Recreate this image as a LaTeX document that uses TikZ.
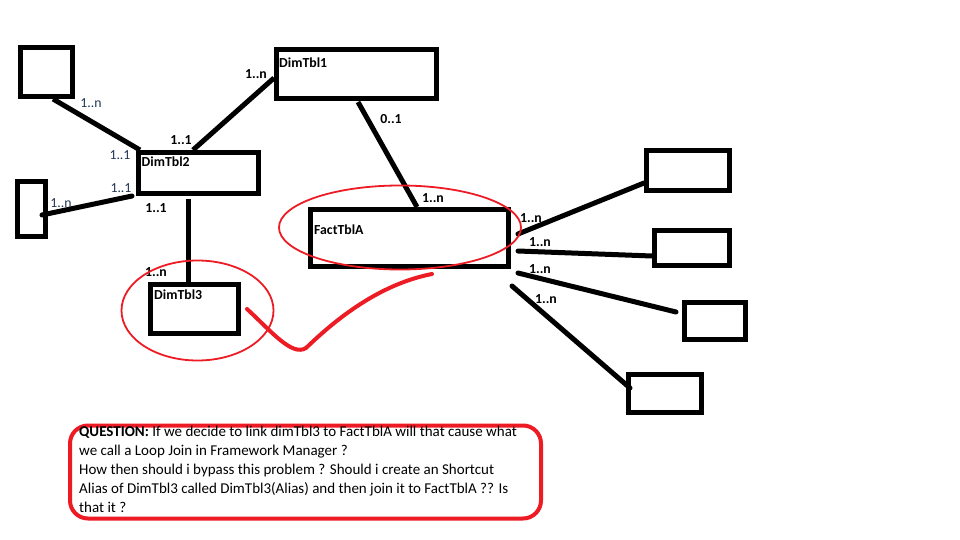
\documentclass[tikz,border=0pt]{standalone}
\usepackage{fontspec}
\setmainfont{Carlito}
\usetikzlibrary{calc}
\definecolor{mspred}{RGB}{237,28,36}
\definecolor{lbl}{RGB}{35,55,85}
\begin{document}
\begin{tikzpicture}[x=1pt,y=-1pt,
  tbl/.style={draw=black,line width=5pt,rectangle,inner sep=0pt},
  conn/.style={line width=5pt,draw=black},
  tname/.style={font=\bfseries\fontsize{13.8}{16}\selectfont,anchor=north west,inner sep=0pt},
  bcard/.style={font=\bfseries\fontsize{13.8}{16}\selectfont,inner sep=0pt},
  card/.style={font=\fontsize{13.8}{16}\selectfont,text=lbl,inner sep=0pt},
  ring/.style={draw=mspred,line width=1.8pt}]
\useasboundingbox (0,0) rectangle (960,540);
\fill[white] (0,0) rectangle (960,540);

% tables
\node[tbl,minimum width=52pt,minimum height=49pt] (tl) at (46.5,72) {};
\node[tbl,minimum width=160pt,minimum height=49pt] (d1) at (356.5,74) {};
\node[tbl,minimum width=120pt,minimum height=41pt] (d2) at (198.5,173) {};
\node[tbl,minimum width=28pt,minimum height=55pt] (sm) at (31.5,209) {};
\node[tbl,minimum width=88pt,minimum height=49pt] (d3) at (194.5,309) {};
\node[tbl,minimum width=198pt,minimum height=57pt] (fa) at (409.5,238) {};
\node[tbl,minimum width=83pt,minimum height=40pt] (r1) at (688,170.5) {};
\node[tbl,minimum width=75pt,minimum height=35pt] (r2) at (692,248) {};
\node[tbl,minimum width=61pt,minimum height=37pt] (r3) at (715,321) {};
\node[tbl,minimum width=73pt,minimum height=38pt] (r4) at (665,393.5) {};

\node[tname] (n1) at ($(d1.north west)+(5,11)$) {DimTbl1};
\node[tname] (n2) at ($(d2.north west)+(5.5,6.5)$) {DimTbl2};
\node[tname] (n3) at ($(d3.north west)+(6,8)$) {DimTbl3};
\node[tname] (n4) at ($(fa.north west)+(6,18)$) {FactTblA};

% connector end points
\coordinate (a1) at (53,99);   \coordinate (a2) at (140,150);
\coordinate (b1) at (274,78);  \coordinate (b2) at (193,150);
\coordinate (c1) at (42,215);  \coordinate (c2) at (132,196);
\coordinate (e1) at (188,199); \coordinate (e2) at (188,282);
\coordinate (f1) at (358,102); \coordinate (f2) at (417,207);
\coordinate (g0) at (518,234); \coordinate (g1) at (644,183);
\coordinate (h0) at (518,251); \coordinate (h1) at (652,256);
\coordinate (i0) at (518,273); \coordinate (i1) at (676,312);
\coordinate (j0) at (512,286); \coordinate (j1) at (630,388);

\draw[conn] (a1) -- (a2);
\draw[conn] (b1) -- (b2);
\draw[conn,line cap=round] (c1) -- (c2);
\draw[conn] (e1) -- (e2);
\draw[conn] (f1) -- (f2);
\draw[conn,line cap=round] (g0) -- (g1);
\draw[conn,line cap=round] (h0) -- (h1);
\draw[conn,line cap=round] (i0) -- (i1);
\draw[conn,line cap=round] (j0) -- (j1);

% cardinalities
\node[card] (k1) at (91,103) {1..n};
\node[card] (k2) at (120,155.5) {1..1};
\node[bcard] (k3) at (256,74) {1..n};
\node[bcard] (k4) at (181,140) {1..1};
\node[card] (k5) at (61,203) {1..n};
\node[card] (k6) at (121,188) {1..1};
\node[bcard] (k7) at (156,208) {1..1};
\node[bcard] (k8) at (156,272) {1..n};
\node[bcard] (k9) at (391,119) {0..1};
\node[bcard] (k10) at (433,198) {1..n};
\node[bcard] (k11) at (531,218) {1..n};
\node[bcard] (k12) at (540,242) {1..n};
\node[bcard] (k13) at (540,269) {1..n};
\node[bcard] (k14) at (546,299) {1..n};

% red markings
\draw[ring] (400,227.5) ellipse [x radius=121, y radius=42];
\draw[ring] (197.5,310.5) ellipse [x radius=76, y radius=50];
\coordinate (s0) at (247,309);
\coordinate (s1) at (432,274);
\draw[draw=mspred,line width=4pt,line cap=round,line join=round]
  (s0) .. controls (270,330) and (292,357) .. (306,348)
       .. controls (330,325) and (375,285) .. (s1);

% question box
\node[draw=mspred,line width=4pt,rounded corners=18pt,minimum width=471pt,minimum height=93pt,inner sep=0pt] (q) at (305.5,472) {};
\node[anchor=north west,inner sep=0pt,align=left,font=\fontsize{15}{19}\selectfont] (qt) at (79,426)
 {\textbf{QUESTION:} If we decide to link dimTbl3 to FactTblA will that cause what\\
 we call a Loop Join in Framework Manager ?\\
 How then should i bypass this problem ? Should i create an Shortcut\\
 Alias of DimTbl3 called DimTbl3(Alias) and then join it to FactTblA ?? Is\\
 that it ?};
\end{tikzpicture}
\end{document}
